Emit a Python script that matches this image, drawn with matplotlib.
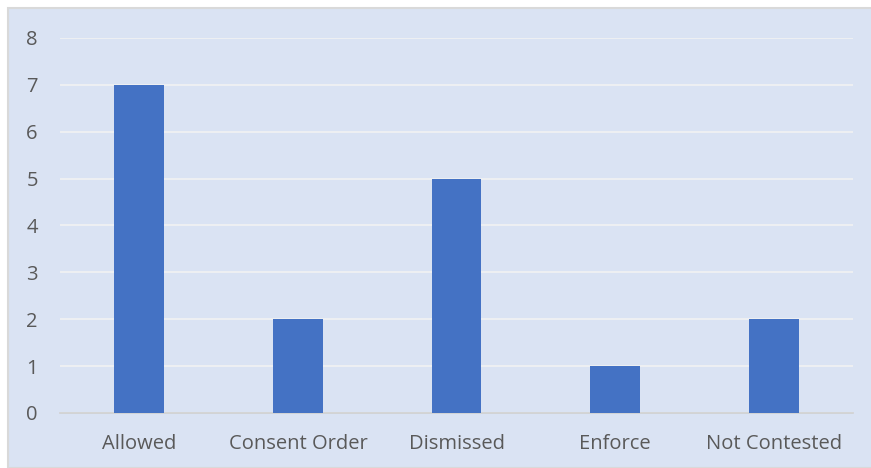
"""Bar chart of case outcomes."""

import matplotlib.pyplot as plt
from matplotlib.patches import Rectangle

categories = ["Allowed", "Consent Order", "Dismissed", "Enforce", "Not Contested"]
counts = [7, 2, 5, 1, 2]
y_ticks = [0, 1, 2, 3, 4, 5, 6, 7, 8]


def main() -> None:
    plt.rcParams["font.family"] = ["Open Sans", "DejaVu Sans"]
    fig = plt.figure(figsize=(8.71, 4.68), dpi=100)
    fig.patch.set_facecolor("white")

    # chart area background with thin border (cropped at right/bottom)
    bg = Rectangle((8 / 871, 0), 1.0, 1 - 8 / 468, transform=fig.transFigure,
                   facecolor="#DAE3F3", edgecolor="#D9D9D9", linewidth=1.5, zorder=-5)
    fig.patches.append(bg)

    ax = fig.add_axes([60 / 871, 1 - 413 / 468, (853 - 60) / 871, (413 - 38) / 468])
    ax.set_zorder(2)
    ax.set_facecolor("none")

    x = range(len(categories))
    ax.bar(x, counts, width=0.315, color="#4472C4", zorder=3)

    ax.set_xlim(-0.5, len(categories) - 0.5)
    ax.set_ylim(0, 8)
    ax.set_yticks(y_ticks)
    ax.set_xticks(list(x))
    ax.set_xticklabels(categories)
    ax.grid(axis="y", color="#F2F2F2", linewidth=1.2, zorder=0)
    for s in ["top", "right", "left"]:
        ax.spines[s].set_visible(False)
    ax.spines["bottom"].set_color("#D0D0D0")
    ax.spines["bottom"].set_linewidth(1.2)
    ax.tick_params(axis="both", length=0, labelsize=14.5, colors="#595959")
    ax.tick_params(axis="y", pad=16)
    ax.tick_params(axis="x", pad=15)

    fig.savefig("out.png", dpi=100)


if __name__ == "__main__":
    main()
